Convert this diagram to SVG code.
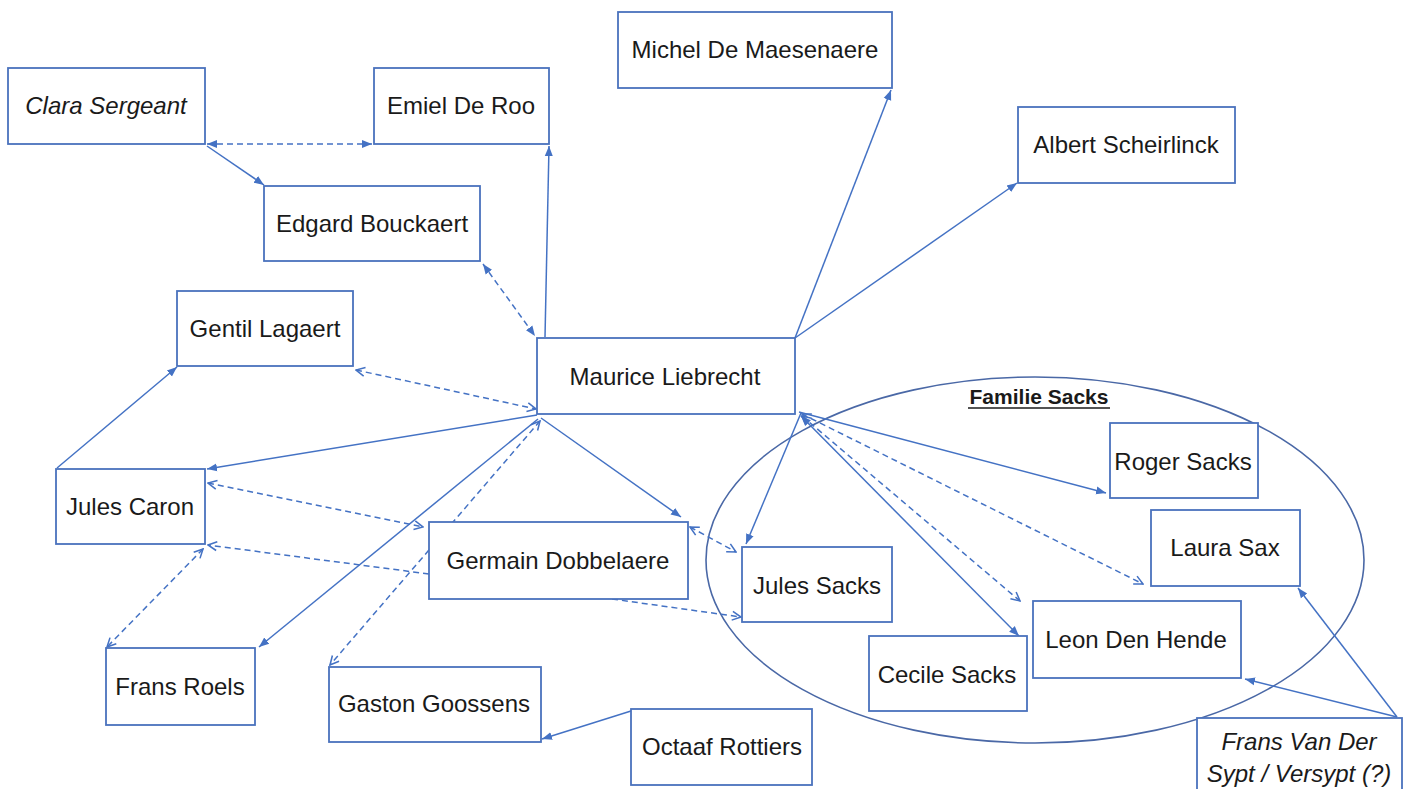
<svg xmlns="http://www.w3.org/2000/svg" width="1404" height="789" viewBox="0 0 1404 789">
<style>
.bx{fill:#fff;stroke:#4a72bd;stroke-width:1.8}
.t{font-family:"Liberation Sans",Arial,sans-serif;font-size:24px;fill:#1a1a1a;text-anchor:middle}
.it{font-style:italic}
.ln{fill:none;stroke:#4472C4;stroke-width:1.5}
.d{stroke-dasharray:6 4}
.ell{fill:none;stroke:#4a68a6;stroke-width:1.6}
</style>
<defs>
<marker id="af" viewBox="0 0 10 10" refX="10" refY="5" markerWidth="10" markerHeight="10" markerUnits="userSpaceOnUse" orient="auto-start-reverse">
<path d="M0,1 L10,5 L0,9 z" fill="#4472C4" stroke="none"/>
</marker>
<marker id="ao" viewBox="0 0 10 10" refX="9" refY="5" markerWidth="11" markerHeight="11" markerUnits="userSpaceOnUse" orient="auto-start-reverse">
<path d="M1,1 L9,5 L1,9" fill="none" stroke="#4472C4" stroke-width="1.4" stroke-dasharray="none"/>
</marker>
</defs>
<rect width="1404" height="789" fill="#fff"/>
<g id="familie-sacks">
<ellipse class="ell" cx="1035" cy="560" rx="329" ry="183"/>
<text x="1039" y="404" font-family="'Liberation Sans',Arial,sans-serif" font-size="21" font-weight="bold" text-anchor="middle" fill="#1a1a1a">Familie Sacks</text>
<line x1="968" y1="408" x2="1110" y2="408" stroke="#1a1a1a" stroke-width="1.5"/>
</g>
<g id="connectors">
<path class="ln d" d="M207,144 L372,144" marker-start="url(#af)" marker-end="url(#af)"/>
<path class="ln" d="M207,146 L264,185" marker-end="url(#af)"/>
<path class="ln" d="M545,337 L549,146" marker-end="url(#af)"/>
<path class="ln d" d="M483,264 L535,336" marker-start="url(#af)" marker-end="url(#af)"/>
<path class="ln d" d="M356,370 L536,409" marker-start="url(#ao)" marker-end="url(#ao)"/>
<path class="ln" d="M57,468 L177,367" marker-end="url(#af)"/>
<path class="ln" d="M537,415 L207,469" marker-end="url(#af)"/>
<path class="ln d" d="M208,483 L423,527" marker-start="url(#ao)" marker-end="url(#ao)"/>
<path class="ln d" d="M429,574 L208,545" marker-end="url(#ao)"/>
<path class="ln d" d="M203,549 L107,647" marker-start="url(#ao)" marker-end="url(#ao)"/>
<path class="ln" d="M538,419 L259,647" marker-end="url(#af)"/>
<path class="ln d" d="M540,421 L330,665" marker-start="url(#ao)" marker-end="url(#ao)"/>
<path class="ln" d="M541,418 L681,517" marker-end="url(#af)"/>
<path class="ln d" d="M690,527 L736,552" marker-start="url(#ao)" marker-end="url(#ao)"/>
<path class="ln d" d="M612,599 L741,617" marker-end="url(#ao)"/>
<path class="ln" d="M801,413 L746,544" marker-end="url(#af)"/>
<path class="ln" d="M795,338 L891,90" marker-end="url(#af)"/>
<path class="ln" d="M795,338 L1017,183" marker-end="url(#af)"/>
<path class="ln" d="M799,412 L1106,493" marker-end="url(#af)"/>
<path class="ln" d="M801,416 L1019,636" marker-start="url(#af)" marker-end="url(#af)"/>
<path class="ln d" d="M802,416 L1020,601" marker-start="url(#ao)" marker-end="url(#ao)"/>
<path class="ln d" d="M802,414 L1143,584" marker-start="url(#ao)" marker-end="url(#ao)"/>
<path class="ln" d="M1397,717 L1298,588" marker-end="url(#af)"/>
<path class="ln" d="M1397,717 L1245,679" marker-end="url(#af)"/>
<path class="ln" d="M631,711 L542,739" marker-end="url(#af)"/>
</g>
<g id="clara-sergeant"><rect class="bx" x="8" y="68" width="197" height="76"/><text class="t it" x="106" y="114">Clara Sergeant</text></g>
<g id="emiel-de-roo"><rect class="bx" x="374" y="68" width="175" height="76"/><text class="t" x="461" y="114">Emiel De Roo</text></g>
<g id="edgard-bouckaert"><rect class="bx" x="264" y="186" width="216" height="75"/><text class="t" x="372" y="232">Edgard Bouckaert</text></g>
<g id="gentil-lagaert"><rect class="bx" x="177" y="291" width="176" height="75"/><text class="t" x="265" y="337">Gentil Lagaert</text></g>
<g id="maurice-liebrecht"><rect class="bx" x="537" y="338" width="258" height="76"/><text class="t" x="665" y="385">Maurice Liebrecht</text></g>
<g id="michel-de-maesenaere"><rect class="bx" x="618" y="12" width="274" height="76"/><text class="t" x="755" y="58">Michel De Maesenaere</text></g>
<g id="albert-scheirlinck"><rect class="bx" x="1018" y="107" width="217" height="76"/><text class="t" x="1126" y="153">Albert Scheirlinck</text></g>
<g id="jules-caron"><rect class="bx" x="56" y="469" width="149" height="75"/><text class="t" x="130" y="515">Jules Caron</text></g>
<g id="germain-dobbelaere"><rect class="bx" x="429" y="522" width="259" height="77"/><text class="t" x="558" y="569">Germain Dobbelaere</text></g>
<g id="frans-roels"><rect class="bx" x="106" y="648" width="149" height="77"/><text class="t" x="180" y="695">Frans Roels</text></g>
<g id="gaston-goossens"><rect class="bx" x="329" y="667" width="212" height="75"/><text class="t" x="434" y="712">Gaston Goossens</text></g>
<g id="octaaf-rottiers"><rect class="bx" x="631" y="709" width="181" height="76"/><text class="t" x="722" y="755">Octaaf Rottiers</text></g>
<g id="jules-sacks"><rect class="bx" x="742" y="547" width="150" height="75"/><text class="t" x="817" y="594">Jules Sacks</text></g>
<g id="roger-sacks"><rect class="bx" x="1110" y="423" width="148" height="75"/><text class="t" x="1183" y="470">Roger Sacks</text></g>
<g id="laura-sax"><rect class="bx" x="1151" y="510" width="149" height="76"/><text class="t" x="1225" y="556">Laura Sax</text></g>
<g id="leon-den-hende"><rect class="bx" x="1033" y="601" width="208" height="77"/><text class="t" x="1136" y="648">Leon Den Hende</text></g>
<g id="cecile-sacks"><rect class="bx" x="869" y="636" width="158" height="75"/><text class="t" x="947" y="683">Cecile Sacks</text></g>
<g id="frans-van-der-sypt"><rect class="bx" x="1197" y="718" width="205" height="80"/><text class="t it" x="1299" y="750">Frans Van Der</text><text class="t it" x="1299" y="782">Sypt / Versypt (?)</text></g>
</svg>
